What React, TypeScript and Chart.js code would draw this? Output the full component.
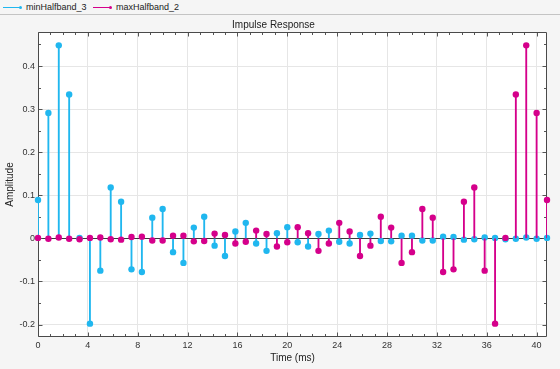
import React, { useEffect, useRef } from "react";
import { Chart, registerables } from "chart.js";

Chart.register(...registerables);

// Sample times (ms), Fs = 1.2 kHz
const TIME_MS = [
  0, 0.833, 1.667, 2.5, 3.333, 4.167, 5, 5.833, 6.667, 7.5,
  8.333, 9.167, 10, 10.833, 11.667, 12.5, 13.333, 14.167, 15, 15.833,
  16.667, 17.5, 18.333, 19.167, 20, 20.833, 21.667, 22.5, 23.333, 24.167,
  25, 25.833, 26.667, 27.5, 28.333, 29.167, 30, 30.833, 31.667, 32.5,
  33.333, 34.167, 35, 35.833, 36.667, 37.5, 38.333, 39.167, 40, 40.833,
];

const MIN_HALFBAND_3 = [
  0.089, 0.291, 0.448, 0.334, 0.001, -0.198, -0.075, 0.118, 0.085, -0.072,
  -0.078, 0.048, 0.068, -0.032, -0.057, 0.025, 0.05, -0.017, -0.041, 0.016,
  0.036, -0.012, -0.029, 0.012, 0.026, -0.009, -0.019, 0.01, 0.018, -0.008,
  -0.012, 0.008, 0.011, -0.006, -0.007, 0.006, 0.006, -0.005, -0.005, 0.004,
  0.003, -0.003, -0.002, 0.002, 0.001, -0.002, -0.001, 0.002, -0.001, 0.001,
];

const MAX_HALFBAND_2 = [
  0.001, -0.001, 0.002, -0.001, -0.002, 0.001, 0.002, -0.002, -0.003, 0.003,
  0.004, -0.005, -0.005, 0.006, 0.006, -0.007, -0.006, 0.011, 0.008, -0.012,
  -0.008, 0.018, 0.01, -0.019, -0.009, 0.026, 0.012, -0.029, -0.012, 0.036,
  0.016, -0.041, -0.017, 0.05, 0.025, -0.057, -0.032, 0.068, 0.048, -0.078,
  -0.072, 0.085, 0.118, -0.075, -0.198, 0.001, 0.334, 0.448, 0.291, 0.089,
];

const X_TICKS = [0, 4, 8, 12, 16, 20, 24, 28, 32, 36, 40];
const Y_TICKS = [-0.2, -0.1, 0, 0.1, 0.2, 0.3, 0.4];
const X_MINOR_STEP = 1;
const Y_MINOR_STEP = 0.05;

const X_MIN = 0;
const X_MAX = 40.833;
const Y_MIN = -0.229;
const Y_MAX = 0.479;

const SERIES_NAMES = ["minHalfband_3", "maxHalfband_2"];
const SERIES_COLORS = ["#20b7ef", "#d5008b"];
const SERIES_VALUES = [MIN_HALFBAND_3, MAX_HALFBAND_2];

const FONT = "'Liberation Sans', Arial, Helvetica, sans-serif";

const framePlugin = {
  id: "frame",
  beforeDatasetsDraw(chart: any) {
    const { ctx, chartArea } = chart;
    const xs = chart.scales.x;
    const ys = chart.scales.y;
    const l = Math.round(chartArea.left) + 0.5;
    const r = Math.round(chartArea.right) - 0.5;
    const t = Math.round(chartArea.top) + 0.5;
    const b = Math.round(chartArea.bottom) - 0.5;
    ctx.save();
    ctx.lineWidth = 1;
    // baseline
    const y0 = Math.round(ys.getPixelForValue(0)) + 0.5;
    ctx.strokeStyle = "#3a3a3a";
    ctx.beginPath();
    ctx.moveTo(l, y0);
    ctx.lineTo(r, y0);
    ctx.stroke();
    // ticks
    ctx.strokeStyle = "#555";
    ctx.beginPath();
    for (let v = X_MIN; v <= X_MAX + 1e-9; v += X_MINOR_STEP) {
      const major = X_TICKS.some((m) => Math.abs(m - v) < 1e-6);
      const len = major ? 4 : 2.5;
      const px = Math.round(xs.getPixelForValue(v)) + 0.5;
      ctx.moveTo(px, b);
      ctx.lineTo(px, b - len);
      ctx.moveTo(px, t);
      ctx.lineTo(px, t + len);
    }
    for (let k = Math.ceil(Y_MIN / Y_MINOR_STEP); k * Y_MINOR_STEP <= Y_MAX + 1e-9; k++) {
      const v = k * Y_MINOR_STEP;
      const major = Y_TICKS.some((m) => Math.abs(m - v) < 1e-6);
      const len = major ? 4 : 2.5;
      const py = Math.round(ys.getPixelForValue(v)) + 0.5;
      ctx.moveTo(l, py);
      ctx.lineTo(l + len, py);
      ctx.moveTo(r, py);
      ctx.lineTo(r - len, py);
    }
    ctx.stroke();
    // box
    ctx.beginPath();
    ctx.strokeStyle = "#4a4a4a";
    ctx.rect(l, t, r - l, b - t);
    ctx.stroke();
    ctx.restore();
  },
};

function ImpulseChart() {
  const ref = useRef<HTMLCanvasElement | null>(null);
  useEffect(() => {
    if (!ref.current) return;
    const datasets: any[] = [];
    const n = SERIES_NAMES.length;
    SERIES_NAMES.forEach((name, i) => {
      const pts = TIME_MS.map((t, k) => ({ x: t, y: SERIES_VALUES[i][k] }));
      datasets.push({
        type: "bar",
        label: name + " stem",
        data: pts,
        backgroundColor: SERIES_COLORS[i],
        borderWidth: 0,
        barThickness: 1.2,
        grouped: false,
        order: (n - i) * 2,
      });
      datasets.push({
        type: "scatter",
        label: name,
        data: pts,
        showLine: false,
        clip: false,
        pointRadius: 3.2,
        pointBackgroundColor: SERIES_COLORS[i],
        pointBorderWidth: 0,
        order: (n - i) * 2 - 1,
      });
    });
    const chart = new Chart(ref.current, {
      type: "scatter",
      data: { datasets },
      options: {
        animation: false,
        responsive: false,
        maintainAspectRatio: false,
        events: [],
        layout: { padding: { top: 15, right: 13, bottom: 0, left: 0 } },
        plugins: {
          legend: { display: false },
          tooltip: { enabled: false },
          title: {
            display: true,
            text: "Impulse Response",
            color: "#222",
            font: { family: FONT, size: 10, weight: "normal" },
            padding: { top: 4, bottom: 1 },
          },
        },
        scales: {
          x: {
            type: "linear",
            min: X_MIN,
            max: X_MAX,
            offset: false,
            afterBuildTicks: (s: any) => {
              s.ticks = X_TICKS.map((v) => ({ value: v }));
            },
            afterFit: (s: any) => {
              s.height = 32;
            },
            ticks: {
              color: "#333",
              font: { family: FONT, size: 9 },
              padding: 3,
              maxRotation: 0,
              autoSkip: false,
              callback: (v: any) => String(Math.round(Number(v))),
            },
            grid: { color: "#e6e6e6", lineWidth: 1, drawTicks: false, offset: false },
            border: { display: false },
            title: {
              display: true,
              text: "Time (ms)",
              color: "#222",
              font: { family: FONT, size: 10 },
              padding: { top: 0, bottom: 5 },
            },
          },
          y: {
            type: "linear",
            min: Y_MIN,
            max: Y_MAX,
            afterBuildTicks: (s: any) => {
              s.ticks = Y_TICKS.map((v) => ({ value: v }));
            },
            afterFit: (s: any) => {
              s.width = 38;
            },
            ticks: {
              color: "#333",
              font: { family: FONT, size: 9 },
              padding: 3,
              autoSkip: false,
              callback: (v: any) => {
                const r = Math.round(Number(v) * 10) / 10;
                return r === 0 ? "0" : String(r);
              },
            },
            grid: { color: "#e6e6e6", lineWidth: 1, drawTicks: false },
            border: { display: false },
            title: {
              display: true,
              text: "Amplitude",
              color: "#222",
              font: { family: FONT, size: 10 },
              padding: { top: 4, bottom: 0 },
            },
          },
        },
      } as any,
      plugins: [framePlugin],
    });
    return () => chart.destroy();
  }, []);
  return <canvas ref={ref} width={560} height={369} style={{ position: "absolute", left: 0, top: 0, width: 560, height: 369 }} />;
}

function Legend() {
  const items = SERIES_NAMES.map((name, i) => ({ name, color: SERIES_COLORS[i] }));
  const lefts = [3, 93];
  return (
    <div
      style={{
        position: "absolute",
        left: 0,
        top: 0,
        width: 560,
        height: 14,
        borderBottom: "1px solid #c4c4c4",
        background: "#f5f5f5",
        zIndex: 2,
      }}
    >
      {items.map((it, i) => (
        <div key={it.name} style={{ position: "absolute", left: lefts[i], top: 0, height: 14, display: "flex", alignItems: "center" }}>
          <div style={{ width: 17, height: 1, background: it.color }} />
          <div style={{ width: 3, height: 3, borderRadius: 2, background: it.color, marginLeft: -1 }} />
          <span style={{ marginLeft: 4, fontFamily: FONT, fontSize: 9, color: "#222", lineHeight: "14px" }}>{it.name}</span>
        </div>
      ))}
    </div>
  );
}

export default function App() {
  return (
    <div style={{ position: "fixed", left: 0, top: 0, width: 560, height: 369, background: "#f5f5f5", overflow: "hidden" }}>
      <div style={{ position: "absolute", left: 38, top: 32, width: 509, height: 305, background: "#fff" }} />
      <ImpulseChart />
      <Legend />
    </div>
  );
}
